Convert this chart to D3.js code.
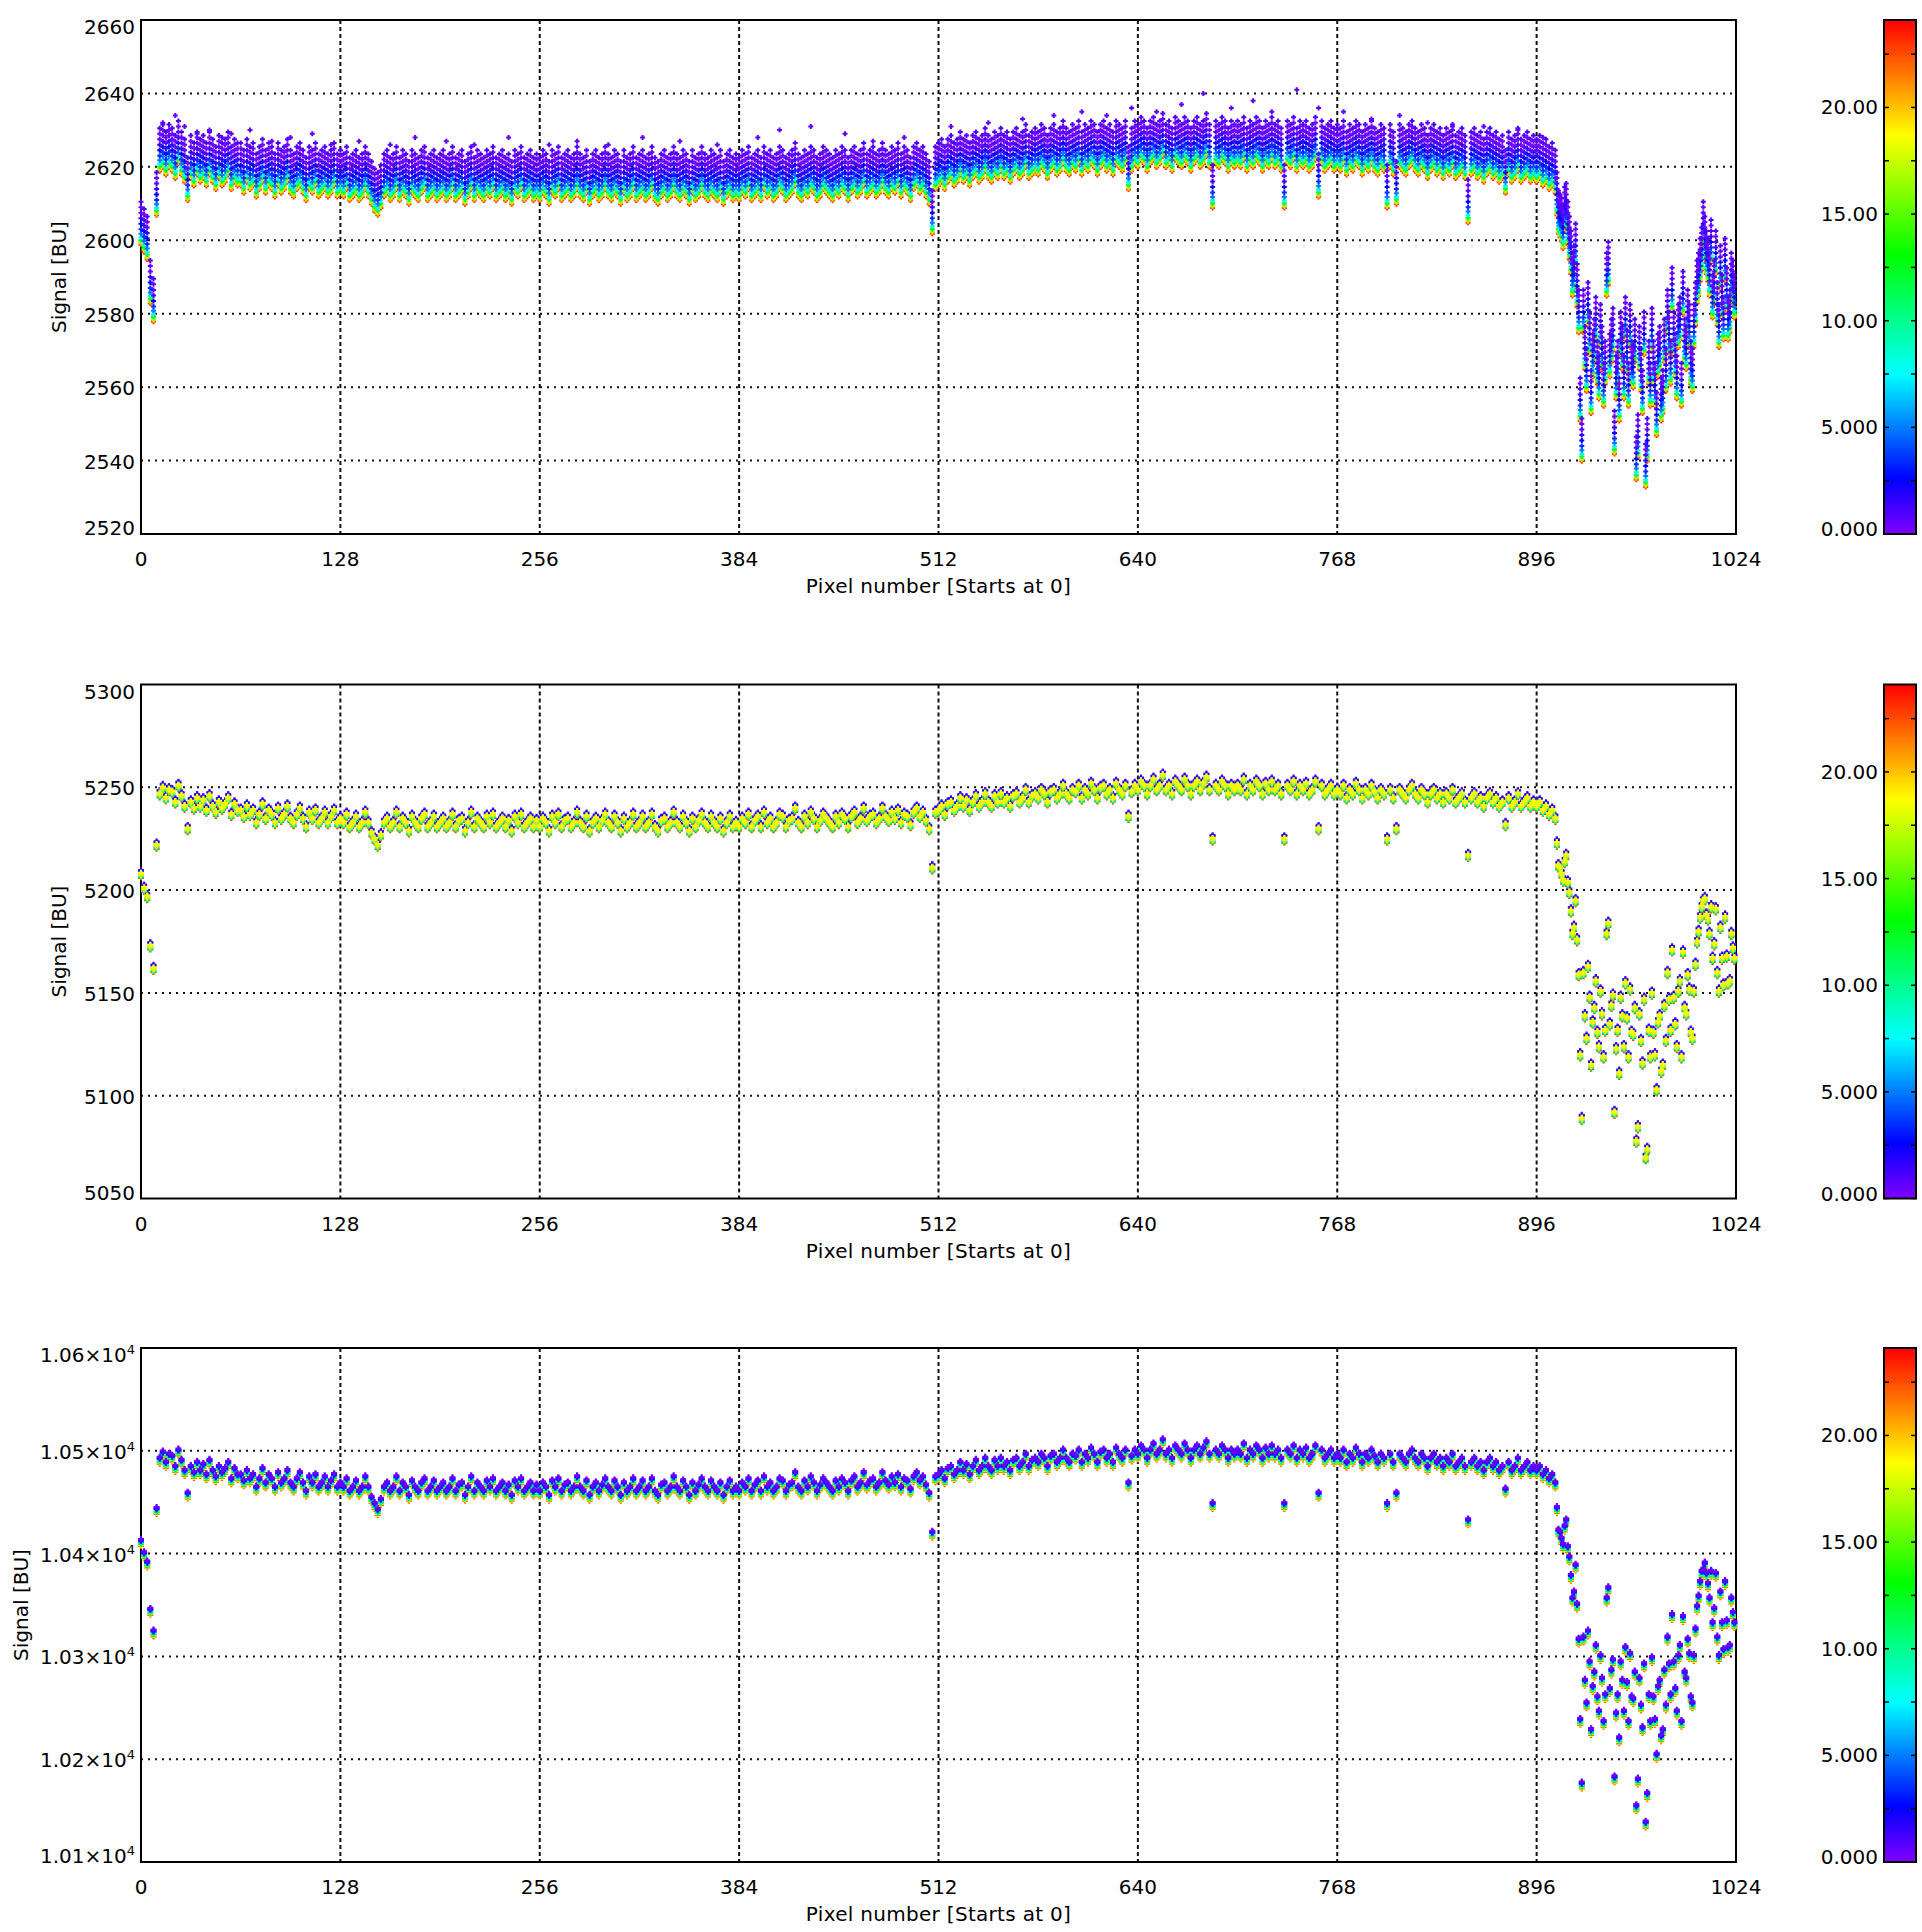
<!DOCTYPE html>
<html><head><meta charset="utf-8">
<script src="https://cdn.jsdelivr.net/npm/d3@7"></script>
<style>
html,body{margin:0;padding:0;background:#fff;}
svg{display:block;font-family:"DejaVu Sans",sans-serif;}
</style></head><body>
<svg id="chart" width="1922" height="1932"></svg>
<script>
// ---------------- DATA ----------------
const pixelStep = 2;      // main signal arrays hold pixels 0,2,4,...,1022
const oddStart = 909;     // extra arrays hold odd pixels 909,911,...,1023 (right-hand edge region)
const xTicks = [0,128,256,384,512,640,768,896,1024];
const xTitle = "Pixel number [Starts at 0]";
const yTitle = "Signal [BU]";

const p1YTicks = [2520,2540,2560,2580,2600,2620,2640,2660];
const p2YTicks = [5050,5100,5150,5200,5250,5300];
const p3YTicks = [10100,10200,10300,10400,10500,10600];
const p3YTickMantissa = ["1.01","1.02","1.03","1.04","1.05","1.06"];

const cbTicks = [0,2.5,5,7.5,10,12.5,15,17.5,20,22.5];
const cbLabelValues = [0,5,10,15,20];
const cbLabels = ["0.000","5.000","10.00","15.00","20.00"];
const cbMax = 24.1;
const colorStops = [[0,"#8000ff"],[2.6,"#0000ff"],[7.5,"#00ffff"],[13.1,"#00ff00"],[18.7,"#ffff00"],[24.1,"#ff0000"]];

// per-frame colour value and offset (BU) for each panel, in drawing order
const p1FrameColors  = [23,20,17,12,8,5,3.5,2.5,1.5,0.8,0.3,1.0];
const p1FrameOffsets = [-5.2,-4.8,-4.4,-3.9,-3.2,-2.2,-1,0.5,2,3.5,5,6.5];
const p2FrameColors  = [0.5,3,23,13,8,17.5,19.5,18.5];
const p2FrameOffsets = [1.7,1.2,-1.9,-1.5,-1.1,-0.6,0,0.4];
const p3FrameColors  = [22,19,13,8,4,2,0.5];
const p3FrameOffsets = [-5.5,-4.5,-3.5,-2.2,-1,0,1.2];

const p1Signal = [
2604,2602,2600,2588,2583,2612,2624,2625,2623,2625,2624,2622,2626,2623,2621,2616,2622,2620,2623,2621,2622,2620,2623,2621,2619,2622,2620,2621,2623,2619,2621,2620,
2620,2618,2621,2619,2620,2617,2619,2621,2618,2620,2619,2617,2620,2618,2619,2621,2618,2617,2619,2620,2618,2616,2619,2618,2620,2617,2618,2619,2617,2618,2620,2617,
2618,2617,2619,2616,2617,2618,2616,2617,2619,2617,2615,2613,2612,2614,2617,2618,2616,2617,2619,2616,2618,2617,2615,2618,2617,2616,2618,2619,2616,2617,2618,2616,
2617,2618,2616,2617,2619,2616,2617,2618,2615,2617,2619,2616,2618,2617,2616,2618,2617,2619,2616,2617,2618,2616,2617,2615,2618,2617,2619,2616,2617,2618,2616,2617,
2616,2618,2617,2615,2618,2617,2619,2616,2617,2618,2616,2617,2619,2617,2616,2618,2615,2617,2618,2616,2617,2619,2617,2616,2618,2617,2615,2618,2616,2617,2619,2616,
2617,2618,2616,2617,2619,2616,2615,2617,2618,2616,2617,2619,2617,2616,2618,2617,2615,2618,2616,2617,2619,2617,2616,2618,2617,2616,2618,2615,2617,2618,2616,2617,
2616,2618,2617,2619,2616,2617,2618,2616,2619,2617,2618,2616,2617,2619,2618,2616,2617,2618,2620,2617,2616,2618,2617,2619,2618,2616,2617,2619,2618,2617,2616,2618,
2617,2619,2618,2616,2618,2619,2617,2618,2620,2617,2618,2619,2617,2618,2620,2618,2617,2619,2618,2620,2617,2619,2618,2616,2619,2620,2618,2619,2617,2615,2607,2619,
2620,2621,2619,2621,2622,2620,2621,2623,2621,2622,2620,2622,2623,2621,2622,2624,2622,2621,2623,2622,2624,2622,2623,2621,2623,2624,2622,2623,2625,2622,2623,2624,
2623,2625,2624,2622,2624,2625,2623,2624,2626,2624,2623,2625,2624,2626,2623,2625,2624,2626,2625,2623,2625,2626,2624,2625,2623,2626,2625,2624,2626,2619,2624,2626,
2625,2627,2626,2624,2626,2627,2625,2626,2628,2625,2626,2624,2627,2626,2625,2627,2626,2624,2626,2627,2625,2626,2628,2625,2614,2626,2625,2627,2626,2624,2626,2625,
2626,2625,2627,2624,2626,2625,2627,2626,2624,2626,2625,2627,2625,2626,2624,2614,2626,2625,2627,2624,2626,2625,2626,2624,2625,2627,2617,2626,2624,2625,2626,2624,
2625,2624,2626,2623,2625,2624,2626,2625,2623,2625,2624,2626,2624,2623,2625,2624,2614,2625,2623,2615,2625,2624,2623,2625,2626,2624,2623,2625,2624,2622,2624,2625,
2623,2624,2622,2624,2623,2625,2622,2623,2624,2622,2610,2623,2624,2622,2623,2621,2623,2624,2622,2623,2621,2622,2618,2623,2621,2622,2624,2621,2622,2623,2621,2622,
2621,2622,2620,2621,2619,2620,2618,2607,2605,2608,2604,2596,2592,2587,2556,2580,2564,2574,2568,2578,2562,2570,2566,2593,2572,2547,2566,2574,2562,2569,2576,2565,
2540,2570,2558,2538,2566,2575,2560,2568,2556,2572,2580,2566,2574,2562,2578,2585,2570,2576,2564,2582,2590,2597,2600,2594,2599,2588,2582,2592,2578,2586,2580,2588
];
const p1OddRight = [
2612,2606,2603,2609,2600,2590,2598,2580,2545,2570,
2582,2558,2572,2566,2576,2560,2590,2568,2575,2562,
2556,2570,2578,2560,2566,2572,2546,2564,2574,2545,
2560,2566,2552,2570,2558,2564,2574,2586,2568,2576,
2560,2572,2580,2566,2576,2588,2594,2604,2596,2590,
2584,2596,2576,2584,2594,2578,2590,2584
];

// scattered high readings above the panel-1 band: [pixel, signal]
const p1HighPoints = [[14,2632],[18,2630],[22,2634],[28,2631],[36,2629],[44,2630],[52,2628],[58,2629],[70,2630],[84,2627],[96,2628],[110,2629],[122,2626],[140,2627],[160,2626],[176,2628],[196,2627],[214,2626],[236,2628],[262,2626],[280,2627],[300,2626],[322,2628],[346,2627],[370,2626],[396,2628],[410,2630],[430,2631],[452,2629],[470,2627],[490,2628],[520,2631],[544,2632],[566,2633],[586,2634],[604,2635],[620,2634],[636,2636],[652,2635],[668,2637],[682,2640],[700,2636],[714,2638],[726,2635],[742,2641],[756,2636],[772,2635],[790,2633],[808,2634],[826,2632],[842,2631],[862,2631],[884,2630],[900,2628]];

const p2Signal = [
5208,5201,5197,5173,5162,5222,5247,5250,5245,5249,5248,5243,5251,5246,5241,5230,5243,5240,5245,5241,5244,5239,5246,5241,5238,5243,5240,5242,5245,5237,5242,5239,
5239,5236,5241,5237,5239,5233,5237,5242,5235,5239,5237,5233,5240,5235,5237,5241,5235,5233,5237,5240,5235,5231,5238,5235,5239,5233,5235,5238,5233,5236,5239,5233,
5235,5233,5237,5231,5233,5236,5231,5233,5238,5233,5228,5225,5222,5227,5233,5235,5231,5233,5238,5231,5235,5233,5229,5236,5233,5231,5235,5237,5231,5233,5236,5231,
5233,5235,5231,5233,5237,5231,5234,5235,5229,5233,5238,5231,5235,5233,5231,5236,5233,5237,5231,5233,5235,5231,5234,5229,5236,5233,5237,5231,5233,5235,5231,5234,
5231,5235,5233,5229,5236,5233,5237,5231,5234,5235,5231,5233,5238,5233,5231,5236,5229,5233,5235,5231,5234,5237,5233,5231,5236,5233,5229,5235,5231,5233,5237,5231,
5233,5236,5231,5233,5237,5231,5229,5234,5235,5231,5233,5238,5233,5231,5236,5233,5229,5235,5231,5234,5237,5233,5231,5236,5233,5231,5235,5229,5233,5236,5231,5233,
5231,5235,5233,5237,5231,5234,5236,5231,5238,5233,5235,5231,5233,5237,5236,5231,5234,5235,5240,5233,5231,5236,5233,5238,5235,5231,5234,5237,5235,5233,5231,5236,
5233,5237,5235,5231,5236,5238,5233,5235,5240,5234,5236,5237,5233,5235,5240,5236,5234,5238,5235,5239,5233,5237,5236,5232,5238,5240,5236,5238,5234,5230,5211,5238,
5239,5241,5237,5242,5243,5239,5241,5245,5241,5244,5239,5243,5246,5241,5243,5247,5243,5241,5246,5243,5247,5243,5245,5241,5246,5247,5243,5245,5249,5243,5246,5247,
5245,5249,5247,5243,5248,5249,5245,5247,5251,5247,5245,5249,5248,5251,5245,5249,5247,5252,5249,5245,5250,5251,5247,5249,5245,5252,5249,5247,5251,5236,5248,5251,
5249,5253,5251,5247,5251,5254,5249,5251,5256,5249,5251,5247,5253,5251,5249,5254,5251,5247,5251,5253,5249,5252,5255,5249,5225,5251,5249,5253,5251,5247,5251,5249,
5251,5249,5254,5247,5251,5249,5253,5251,5247,5252,5249,5253,5249,5251,5247,5225,5251,5249,5253,5247,5251,5249,5252,5247,5249,5253,5230,5251,5247,5249,5251,5247,
5249,5247,5251,5245,5249,5247,5252,5249,5245,5249,5247,5251,5248,5245,5249,5247,5225,5249,5245,5230,5249,5247,5245,5249,5251,5247,5245,5249,5247,5243,5247,5249,
5245,5247,5243,5247,5245,5249,5243,5245,5247,5243,5217,5245,5247,5243,5245,5241,5245,5247,5243,5245,5241,5243,5232,5245,5241,5243,5247,5241,5243,5245,5241,5243,
5241,5243,5239,5241,5237,5239,5235,5212,5208,5214,5204,5190,5182,5176,5120,5160,5128,5148,5136,5156,5124,5140,5132,5184,5144,5092,5132,5148,5124,5138,5152,5130,
5078,5140,5116,5070,5132,5150,5120,5136,5112,5144,5160,5132,5148,5124,5156,5170,5140,5152,5128,5164,5180,5192,5196,5186,5192,5174,5160,5182,5154,5168,5156,5172
];
const p2OddRight = [
5223,5211,5205,5217,5199,5179,5195,5159,5089,5139,
5163,5115,5143,5131,5151,5119,5179,5135,5149,5123,
5111,5139,5155,5119,5131,5143,5085,5127,5147,5074,
5119,5131,5103,5139,5115,5127,5147,5171,5135,5151,
5119,5143,5159,5131,5151,5175,5187,5195,5188,5179,
5167,5191,5151,5167,5187,5155,5179,5167
];

const p3Signal = [
10413,10401,10392,10346,10325,10444,10493,10499,10489,10497,10495,10485,10501,10491,10481,10459,10485,10479,10489,10481,10487,10477,10491,10481,10475,10485,10479,10483,10489,10473,10483,10477,
10477,10471,10481,10473,10477,10465,10473,10483,10469,10477,10473,10465,10479,10469,10473,10481,10469,10465,10473,10479,10469,10461,10475,10469,10477,10465,10469,10475,10465,10471,10477,10465,
10469,10465,10473,10461,10465,10471,10461,10465,10475,10465,10455,10449,10443,10453,10465,10469,10461,10465,10475,10461,10469,10465,10457,10471,10465,10461,10469,10473,10461,10465,10471,10461,
10465,10469,10461,10465,10473,10461,10467,10469,10457,10465,10475,10461,10469,10465,10461,10471,10465,10473,10461,10465,10469,10461,10467,10457,10471,10465,10473,10461,10465,10469,10461,10467,
10461,10469,10465,10457,10471,10465,10473,10461,10467,10469,10461,10465,10475,10465,10461,10471,10457,10465,10469,10461,10467,10473,10465,10461,10471,10465,10457,10469,10461,10465,10473,10461,
10465,10471,10461,10465,10473,10461,10457,10467,10469,10461,10465,10475,10465,10461,10471,10465,10457,10469,10461,10467,10473,10465,10461,10471,10465,10461,10469,10457,10465,10471,10461,10465,
10461,10469,10465,10473,10461,10467,10471,10461,10475,10465,10469,10461,10465,10473,10471,10461,10467,10469,10479,10465,10461,10471,10465,10475,10469,10461,10467,10473,10469,10465,10461,10471,
10465,10473,10469,10461,10471,10475,10465,10469,10479,10467,10471,10473,10465,10469,10479,10471,10467,10475,10469,10477,10465,10473,10471,10463,10475,10479,10471,10475,10467,10459,10421,10475,
10477,10481,10473,10483,10485,10477,10481,10489,10481,10487,10477,10485,10491,10481,10485,10493,10485,10481,10491,10485,10493,10485,10489,10481,10491,10493,10485,10489,10497,10485,10491,10493,
10489,10497,10493,10485,10495,10497,10489,10493,10501,10493,10489,10497,10495,10501,10489,10497,10493,10503,10497,10489,10499,10501,10493,10497,10489,10503,10497,10493,10501,10469,10495,10501,
10497,10505,10501,10493,10501,10507,10497,10501,10511,10497,10501,10493,10505,10501,10497,10507,10501,10493,10501,10505,10497,10503,10509,10497,10449,10501,10497,10505,10501,10493,10501,10497,
10501,10497,10507,10493,10501,10497,10505,10501,10493,10503,10497,10505,10497,10501,10493,10449,10501,10497,10505,10493,10501,10497,10503,10493,10497,10505,10459,10501,10493,10497,10501,10493,
10497,10493,10501,10489,10497,10493,10503,10497,10489,10497,10493,10501,10495,10489,10497,10493,10449,10497,10489,10459,10497,10493,10489,10497,10501,10493,10489,10497,10493,10485,10493,10497,
10489,10493,10485,10493,10489,10497,10485,10489,10493,10485,10433,10489,10493,10485,10489,10481,10489,10493,10485,10489,10481,10485,10463,10489,10481,10485,10493,10481,10485,10489,10481,10485,
10481,10485,10477,10481,10473,10477,10469,10423,10415,10427,10407,10379,10363,10351,10239,10319,10255,10295,10271,10311,10247,10279,10263,10367,10287,10183,10263,10295,10247,10275,10303,10259,
10155,10279,10231,10139,10263,10299,10239,10271,10223,10287,10319,10263,10295,10247,10311,10339,10279,10303,10255,10327,10359,10383,10391,10371,10383,10347,10319,10363,10307,10335,10311,10343
];
const p3OddRight = [
10445,10421,10409,10433,10397,10357,10389,10317,10177,10277,
10325,10229,10285,10261,10301,10237,10357,10269,10297,10245,
10221,10277,10309,10237,10261,10285,10181,10253,10293,10167,
10237,10261,10205,10277,10229,10253,10293,10341,10269,10301,
10237,10285,10317,10261,10301,10349,10373,10385,10381,10357,
10333,10381,10301,10333,10373,10309,10357,10333
];

// ---------------- LAYOUT ----------------
const W = 1922, H = 1932;
const plotLeft = 141, plotRight = 1736, plotH = 514;
const panelTops = [20, 684.5, 1348];
const yTitleX = [66, 66, 28];
const markArm = [2.5, 3, 3];
const markWidth = [2, 2.2, 2.2];
const cbX = 1884, cbW = 32;
const fontSize = 20;

const colorScale = d3.scaleLinear()
  .domain(colorStops.map(d => d[0]))
  .range(colorStops.map(d => d[1]))
  .interpolate(d3.interpolateRgb)
  .clamp(true);

const x = d3.scaleLinear().domain([0, 1024]).range([plotLeft, plotRight]);

const svg = d3.select("#chart");
svg.append("rect").attr("width", W).attr("height", H).attr("fill", "#fff");

const defs = svg.append("defs");
const grad = defs.append("linearGradient").attr("id", "cbgrad")
  .attr("x1", 0).attr("y1", 1).attr("x2", 0).attr("y2", 0);
colorStops.forEach(([v, c]) => grad.append("stop").attr("offset", v / cbMax).attr("stop-color", c));

const panels = [
  {values: p1Signal, odd: p1OddRight, domain: [2520, 2660], ticks: p1YTicks, label: d => [String(d), null],
   colors: p1FrameColors, offsets: p1FrameOffsets, extra: p1HighPoints},
  {values: p2Signal, odd: p2OddRight, domain: [5050, 5300], ticks: p2YTicks, label: d => [String(d), null],
   colors: p2FrameColors, offsets: p2FrameOffsets, extra: []},
  {values: p3Signal, odd: p3OddRight, domain: [10100, 10600], ticks: p3YTicks, label: (d, i) => [p3YTickMantissa[i] + "\u00d710", "4"],
   colors: p3FrameColors, offsets: p3FrameOffsets, extra: []}
];

function plus(cx, cy, a) {
  return "M" + (cx - a).toFixed(1) + "," + cy.toFixed(1) + "h" + (2 * a) +
         "M" + cx.toFixed(1) + "," + (cy - a).toFixed(1) + "v" + (2 * a);
}

panels.forEach((p, pi) => {
  const top = panelTops[pi], bottom = top + plotH;
  const y = d3.scaleLinear().domain(p.domain).range([bottom, top]);
  const g = svg.append("g");
  const a = markArm[pi];

  // grid lines
  g.selectAll(".hg").data(p.ticks.slice(1, -1)).enter().append("line")
    .attr("x1", plotLeft).attr("x2", plotRight)
    .attr("y1", d => y(d)).attr("y2", d => y(d))
    .attr("stroke", "#111").attr("stroke-width", 2).attr("stroke-dasharray", "2,5");
  g.selectAll(".vg").data(xTicks.slice(1, -1)).enter().append("line")
    .attr("x1", d => x(d)).attr("x2", d => x(d))
    .attr("y1", top).attr("y2", bottom)
    .attr("stroke", "#111").attr("stroke-width", 2).attr("stroke-dasharray", "4,3");

  // frame
  g.append("rect").attr("x", plotLeft).attr("y", top)
    .attr("width", plotRight - plotLeft).attr("height", plotH)
    .attr("fill", "none").attr("stroke", "#000").attr("stroke-width", 2);

  // y tick labels
  const nT = p.ticks.length;
  p.ticks.forEach((t, i) => {
    let base = y(t) + 8;
    if (i === nT - 1) base = y(t) + 14;
    if (i === 0) base = y(t) + 1;
    const [main, sup] = p.label(t, i);
    const txt = g.append("text").attr("x", 135).attr("y", base)
      .attr("text-anchor", "end").attr("font-size", fontSize).attr("fill", "#000");
    txt.append("tspan").text(main);
    if (sup) txt.append("tspan").attr("dy", -8).attr("font-size", 13).text(sup);
  });

  // x tick labels
  g.selectAll(".xl").data(xTicks).enter().append("text")
    .attr("x", d => x(d)).attr("y", bottom + 32)
    .attr("text-anchor", "middle").attr("font-size", fontSize).attr("fill", "#000")
    .text(d => d);

  // titles
  g.append("text").attr("x", (plotLeft + plotRight) / 2).attr("y", bottom + 59)
    .attr("text-anchor", "middle").attr("font-size", fontSize).attr("fill", "#000")
    .attr("letter-spacing", 0.3).text(xTitle);
  g.append("text").attr("transform", "translate(" + yTitleX[pi] + "," + (top + plotH / 2) + ") rotate(-90)")
    .attr("text-anchor", "middle").attr("font-size", fontSize).attr("fill", "#000").text(yTitle);

  // data: one layer per frame, drawn in frame order
  p.colors.forEach((c, fi) => {
    let d = "";
    p.values.forEach((v, i) => { d += plus(x(i * pixelStep), y(v + p.offsets[fi]), a); });
    p.odd.forEach((v, i) => { d += plus(x(oddStart + i * 2), y(v + p.offsets[fi]), a); });
    g.append("path").attr("d", d).attr("fill", "none")
      .attr("stroke", colorScale(c)).attr("stroke-width", markWidth[pi]);
  });
  if (p.extra.length) {
    let d = "";
    p.extra.forEach(([px, v]) => { d += plus(x(px), y(v), a); });
    g.append("path").attr("d", d).attr("fill", "none")
      .attr("stroke", colorScale(0.6)).attr("stroke-width", markWidth[pi]);
  }

  // colour bar
  const cy = d3.scaleLinear().domain([0, cbMax]).range([bottom, top]);
  g.append("rect").attr("x", cbX).attr("y", top).attr("width", cbW).attr("height", plotH)
    .attr("fill", "url(#cbgrad)").attr("stroke", "#000").attr("stroke-width", 2);
  cbTicks.forEach(t => {
    g.append("line").attr("x1", cbX).attr("x2", cbX + 5).attr("y1", cy(t)).attr("y2", cy(t))
      .attr("stroke", "#000").attr("stroke-width", 1.5);
    g.append("line").attr("x1", cbX + cbW - 5).attr("x2", cbX + cbW).attr("y1", cy(t)).attr("y2", cy(t))
      .attr("stroke", "#000").attr("stroke-width", 1.5);
  });
  cbLabelValues.forEach((v, i) => {
    g.append("text").attr("x", 1878).attr("y", cy(v) + (v === 0 ? 2 : 7))
      .attr("text-anchor", "end").attr("font-size", fontSize).attr("fill", "#000").text(cbLabels[i]);
  });
});
</script>
</body></html>
